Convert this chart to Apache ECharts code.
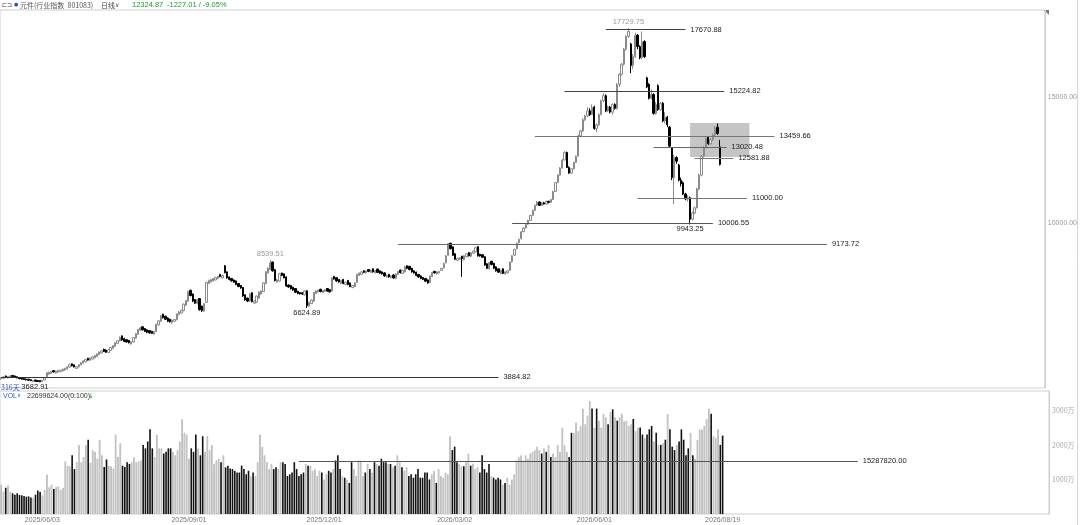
<!DOCTYPE html>
<html><head><meta charset="utf-8">
<script src="https://cdn.jsdelivr.net/npm/echarts@6/dist/echarts.min.js"></script>
<style>html,body{margin:0;padding:0;background:#fff}#c{width:1080px;height:525px}</style>
</head><body><div id="c"></div>
<script>
// ---------- data ----------
const opens=[3810,3840,3930,3850,3880,3950,3930,3900,3870,3845,
3830,3810,3800,3780,3700,3770,3750,3745,3705,3770,
3900,4000,4030,4140,4050,4080,4100,4130,4160,4210,
4280,4410,4370,4230,4290,4370,4440,4490,4630,4550,
4600,4650,4700,4780,4840,4990,4960,4860,4940,5020,
5100,5220,5320,5520,5420,5370,5340,5200,5280,5430,
5580,5740,5880,5810,5760,5730,5700,5590,5690,5960,
6100,6380,6300,6230,6180,6040,6100,6160,6360,6430,
6520,6740,6900,7330,7180,6960,6800,7000,6700,6500,
6850,7600,7660,7700,7740,7790,7960,7820,8300,8060,
7860,7800,7740,7700,7600,7520,7440,7150,7020,6900,
7230,6820,6860,7020,7180,7280,7600,8020,8150,8450,
8150,7660,7700,8010,7980,7860,7540,7520,7450,7400,
7290,7240,7230,7150,7310,6700,6800,6900,7200,7260,
7370,7240,7280,7400,7350,7300,7880,7830,7760,7600,
7760,7560,7720,7620,7440,7480,7640,7920,7960,8100,
8020,8150,8040,8180,8030,8170,8100,8060,8020,7860,
7960,7830,7940,7800,7960,8130,8000,8060,8300,8280,
8200,8100,8050,7960,7900,7840,7800,7740,7640,7880,
8080,7980,8020,8120,8220,8420,8720,9200,9050,8780,
8520,8560,8680,8540,8660,8820,8680,8800,8860,9060,
8760,8740,8660,8380,8180,8480,8400,8260,8180,8000,
8180,7980,8020,8120,8460,8720,8980,9220,9380,9660,
9800,9950,10100,10300,10500,10700,10830,10700,10800,10750,
10860,10820,10930,11250,11600,11900,12180,12500,12800,12200,
11980,12150,12400,12650,13450,13650,14100,14250,14450,14300,
14600,13750,13900,14300,14850,15050,14450,14600,14400,14700,
14550,15500,15900,16300,16900,17400,17100,16250,16600,17450,
17000,16560,17200,15760,15500,14950,15100,14350,15450,14500,
14750,14050,14200,13800,12980,11800,12600,12300,11700,11600,
11150,10950,11000,10150,10400,10600,11350,11900,12650,13000,
13400,13150,13300,13500,13800,13020.48];
const closes=[3870,3895,3880,3910,3935,3905,3880,3850,3820,3800,
3790,3770,3760,3740,3745,3720,3710,3700,3760,3860,
4060,4080,4100,4090,4120,4150,4160,4200,4230,4290,
4380,4330,4290,4300,4380,4460,4530,4580,4560,4640,
4690,4740,4800,4880,4930,4900,4870,4960,5060,5130,
5250,5330,5460,5360,5300,5280,5250,5290,5450,5600,
5780,5840,5760,5700,5660,5640,5620,5700,5980,6120,
6320,6240,6180,6100,6080,6150,6170,6390,6480,6530,
6780,6920,7280,7120,6900,6820,6960,6560,6520,6800,
7640,7720,7760,7800,7840,7880,7870,7920,8030,7820,
7760,7700,7650,7560,7480,7420,7100,6950,6900,7200,
6880,6900,7100,7260,7300,7620,8060,8200,8420,8100,
7720,7740,7990,7920,7830,7500,7460,7390,7340,7250,
7200,7190,7180,7300,6720,6850,6940,7240,7300,7330,
7280,7320,7350,7300,7270,7820,7780,7700,7660,7720,
7600,7650,7560,7480,7520,7620,7960,8010,8060,8040,
8100,8080,8130,8060,8120,8040,8010,7980,7900,7920,
7860,7900,7820,7980,8080,8030,8120,8260,8200,8150,
8060,8020,7920,7860,7800,7760,7690,7620,7900,8040,
8020,8060,8080,8200,8400,8700,9180,8980,8720,8560,
8600,8620,8580,8700,8780,8700,8820,8880,9020,8700,
8690,8640,8330,8200,8430,8350,8200,8100,8050,8130,
8000,8060,8100,8450,8700,8950,9200,9350,9650,9800,
9950,10100,10300,10500,10700,10830,10700,10800,10750,10860,
10820,10930,11250,11600,11900,12180,12500,12800,12200,11980,
12150,12400,12650,13450,13650,14100,14250,14450,14300,14580,
13750,13900,14300,14850,15050,14450,14600,14400,14700,14550,
15500,15900,16300,16900,17400,17600,16250,16600,17450,17000,
16560,17200,16600,15400,14950,15100,14350,14700,14500,14750,
14050,14200,13900,13050,11800,12600,12450,11700,11550,11150,
10950,11000,10150,10400,10600,11350,11900,12650,13000,13350,
13150,13300,13500,13760,13551.88,12324.87];
const lows=[3790,3825,3865,3835,3865,3890,3865,3835,3805,3785,
3775,3755,3745,3725,3690,3705,3695,3682.91,3690,3755,
3880,3985,4010,4070,4030,4060,4085,4110,4140,4190,
4260,4310,4270,4210,4270,4350,4420,4470,4540,4530,
4580,4630,4680,4760,4820,4880,4845,4835,4920,5000,
5080,5200,5300,5330,5270,5250,5220,5170,5260,5410,
5560,5715,5735,5675,5630,5610,5590,5560,5670,5940,
6080,6215,6150,6070,6050,6010,6080,6140,6340,6410,
6500,6720,6880,7090,6860,6790,6780,6520,6470,6480,
6830,7580,7640,7680,7720,7770,7845,7800,8000,7790,
7730,7670,7620,7530,7450,7390,7070,6920,6860,6870,
6850,6790,6830,7000,7160,7260,7580,8000,8130,8070,
7680,7630,7680,7890,7800,7470,7430,7360,7310,7220,
7170,7160,7150,7120,6624.89,6670,6780,6880,7180,7240,
7250,7210,7260,7270,7240,7280,7750,7670,7630,7570,
7570,7530,7530,7450,7410,7450,7620,7900,7940,8010,
8000,8050,8020,8030,8000,8010,7980,7950,7870,7830,
7830,7800,7790,7770,7940,8000,7980,8040,8170,8120,
8030,7990,7890,7830,7770,7730,7660,7590,7610,7860,
7990,7950,8000,8100,8200,8400,8700,8950,8690,8530,
8490,8530,7860,8510,8640,8670,8650,8780,8840,8670,
8660,8610,8300,8170,8150,8320,8170,8070,8020,7970,
7970,7950,7990,8090,8430,8690,8950,9190,9350,9630,
9780,9930,10080,10280,10480,10680,10680,10680,10730,10730,
10780,10800,10910,11230,11580,11880,12160,12480,12180,11950,
11950,12130,12380,12630,13400,13620,14050,14200,14250,14280,
13700,13600,13850,14280,14800,14400,14400,14350,14300,14500,
14500,15400,15850,16250,16850,17350,15950,16100,16550,16900,
16500,16500,16550,15350,14900,14900,14300,14300,14450,14450,
14000,13950,13800,13000,11700,10750,12350,11650,11450,11100,
10900,10850,9943.25,10100,10350,10580,11300,11850,12600,12950,
13100,13100,13250,13450,13500,12280];
const highs=[3885,3910,3945,3925,3950,3965,3945,3915,3885,3860,
3845,3825,3815,3795,3760,3785,3765,3760,3775,3880,
4080,4100,4120,4160,4140,4170,4180,4220,4250,4310,
4420,4430,4390,4320,4400,4480,4550,4600,4650,4660,
4710,4760,4820,4900,4950,5010,4980,4980,5080,5150,
5270,5350,5500,5540,5440,5390,5360,5310,5470,5630,
5800,5870,5900,5830,5780,5750,5720,5720,6000,6150,
6350,6400,6320,6250,6200,6170,6190,6410,6500,6560,
6800,6940,7310,7350,7200,6980,6980,7020,6720,6830,
7670,7750,7780,7820,7860,7900,7980,7940,8330,8080,
7880,7820,7760,7720,7620,7540,7460,7170,7040,7230,
7250,6930,7120,7280,7330,7650,8090,8240,8539.51,8470,
8170,7780,8020,8030,8000,7880,7560,7540,7470,7420,
7310,7260,7250,7330,7330,6880,6970,7260,7330,7360,
7390,7340,7380,7420,7370,7850,7900,7850,7780,7750,
7780,7670,7740,7640,7540,7650,7990,8040,8090,8120,
8120,8170,8150,8200,8140,8190,8120,8080,8040,7950,
7980,7920,7960,8000,8100,8150,8140,8290,8320,8300,
8220,8120,8070,7980,7920,7860,7820,7760,7920,8060,
8100,8080,8100,8220,8420,8730,9200,9210,9070,8800,
8620,8650,8700,8720,8800,8840,8840,8900,9050,9080,
8780,8760,8680,8400,8450,8500,8420,8280,8200,8150,
8200,8080,8120,8470,8720,8980,9230,9380,9680,9830,
9980,10130,10330,10530,10730,10870,10860,10830,10840,10880,
10880,10960,11280,11630,11930,12210,12530,12850,12830,12250,
12180,12430,12680,13500,13700,14150,14300,14600,14550,14700,
14650,13950,14350,14900,15150,15100,14650,14650,14750,14750,
15550,15950,16350,16950,17450,17729.75,17150,16700,17550,17500,
17050,17600,17250,15800,15550,15300,15150,14800,15500,14800,
14800,14400,14250,13850,13000,12700,12650,12350,11800,11650,
11200,11100,11050,10450,10650,11400,11950,12700,13050,13400,
13450,13350,13550,13850,13950,13300];
// volume in 万 (10k)
const volumes=[850,650,760,830,650,600,560,600,550,540,
520,500,510,480,470,560,680,640,540,700,
1140,780,850,720,780,800,700,760,1525,1400,
1380,1700,1300,1500,2000,1500,1650,2000,2150,1480,
1850,1800,1600,2150,1700,1360,1580,1400,1380,1320,
2300,1660,2050,1400,1360,1500,1450,1500,1640,1500,
1520,1550,2000,1900,2100,2450,1900,1650,2300,1900,
1900,1750,1800,1900,1900,1800,1700,1850,2100,2740,
2350,2300,1600,1900,1800,2300,1900,1700,2250,1800,
2250,1850,2000,1450,1550,1600,1500,1700,1350,1400,
1320,1300,1250,1200,1200,1400,1300,1150,1250,1100,
1200,1100,1500,2300,1950,1700,1500,1300,1450,1300,
1350,1300,1500,1500,1450,1100,1150,1200,1500,1300,
1100,1150,1200,1450,1400,1400,1250,1300,1100,1250,
1200,1000,1150,1250,1200,1300,1550,1700,1300,1100,
1050,1000,900,1500,1300,1100,1550,1550,1100,1200,
1450,1300,1200,1500,1450,1400,1600,1500,1500,1450,
1450,1350,1400,1700,1500,1350,1250,1350,1100,1150,
1050,1150,1300,1050,1050,1200,1200,1000,1150,1250,
900,1300,1100,1050,1200,1150,2250,1850,1950,1500,
1450,1380,1380,1500,1750,1400,1460,1300,1350,1200,
1700,1300,1200,1450,1100,1050,1000,1050,1000,850,
900,1050,850,1000,1150,1550,1650,1700,1550,1700,
1600,1750,1800,1850,1950,1850,1750,1900,1800,2000,
1650,1750,1650,2000,1800,2500,2000,1800,1650,2350,
2350,2650,2400,2550,3050,2600,2850,3270,3050,2500,
3050,2700,2500,2900,2800,2600,2950,3030,2800,2700,
2800,2900,2680,2700,2550,2600,2750,2400,2500,2500,
2300,2200,2300,2450,2550,2100,2350,2000,2000,2050,
2150,2900,2450,1950,1850,2000,2100,2450,2150,1700,
1900,2350,1700,1600,2150,2450,2450,2550,2750,3050,
2900,2250,2200,2450,2000,2269.9624];
const priceLevels=[17670.88,15224.82,13459.66,13020.48,12581.88,11000.00,10006.55,9173.72,3884.82];
const volumeLevel=1528.782;
const priceTicks=[10000,15000];
const volumeTicks=[1000,2000,3000];
const dateTicks=['2025/06/03','2025/09/01','2025/12/01','2026/03/02','2026/06/01','2026/08/19'];
const extremes=[{i:275,v:17729.75,pos:'top'},{i:118,v:8539.51,pos:'top'},{i:134,v:6624.89,pos:'bottom'},{i:302,v:9943.25,pos:'bottom'},{i:17,v:3682.91,pos:'bottom'}];
const boxRange=[13968,12619];
// ---------- layout (positions in category-index units) ----------
const levelSpans=[[264.6,299.9],[246.7,316.5],[234.4,339.2],[286.4,318.3],[304.3,320.5],[279.4,326.6],[223.5,312.2],[173.7,362],[-0.5,217.8]];
const levelColors=['#444','#444','#777','#666','#777','#777','#555','#666','#333'];
const volumeSpan=[129.6,374.2];
const boxSpan=[302.2,328.3];
const TOTAL_SLOTS=458;

const holidays=new Set(['2025-06-02','2025-10-01','2025-10-02','2025-10-03','2025-10-06','2025-10-07','2025-10-08','2026-01-01','2026-01-02','2026-02-16','2026-02-17','2026-02-18','2026-02-19','2026-02-20','2026-02-23','2026-04-06','2026-05-01','2026-05-04','2026-05-05','2026-06-19']);
function tradingDays(n){
  const out=[];const d=new Date(Date.UTC(2025,4,7));
  while(out.length<n){
    const w=d.getUTCDay();
    const y=d.getUTCFullYear(),m=String(d.getUTCMonth()+1).padStart(2,'0'),dd=String(d.getUTCDate()).padStart(2,'0');
    if(w!==0&&w!==6&&!holidays.has(y+'-'+m+'-'+dd)) out.push(y+'/'+m+'/'+dd);
    d.setUTCDate(d.getUTCDate()+1);
  }
  return out;
}
const dates=tradingDays(closes.length);
const cats=dates.slice();
for(let k=cats.length;k<TOTAL_SLOTS;k++) cats.push('#'+k);

const N=closes.length;
const last=closes[N-1], prev=closes[N-2];
const chg=last-prev, pct=chg/prev*100;

const NUM='"Liberation Sans", Arial, sans-serif';
const CJK='"Noto Sans CJK SC", sans-serif';
const green='#1f9a2a';

const chart=echarts.init(document.getElementById('c'),null,{renderer:'canvas'});
chart.setOption({
  animation:false,
  backgroundColor:'#fff',
  grid:[
    {left:0,right:31,top:10,height:378,show:true,borderColor:'#cfcfcf',borderWidth:1},
    {left:0,right:31,top:391,height:123,show:true,borderColor:'#cfcfcf',borderWidth:1}
  ],
  xAxis:[
    {type:'category',gridIndex:0,data:cats,boundaryGap:true,axisLine:{show:false},axisTick:{show:false},axisLabel:{show:false},splitLine:{show:false}},
    {type:'category',gridIndex:1,data:cats,boundaryGap:true,axisLine:{show:false},axisTick:{show:false},splitLine:{show:false},
     axisLabel:{show:true,interval:(idx,val)=>dateTicks.includes(val),fontSize:7,color:'#777',fontFamily:NUM,margin:3,hideOverlap:false}}
  ],
  yAxis:[
    {type:'value',gridIndex:0,position:'right',min:3452,max:18452,axisLine:{show:true,lineStyle:{color:'#cfcfcf'}},axisTick:{show:false},splitLine:{show:false},
     axisLabel:{customValues:priceTicks,formatter:v=>v.toFixed(2),fontSize:7,color:'#999',fontFamily:NUM,margin:3}},
    {type:'value',gridIndex:1,position:'right',min:0,max:3560,axisLine:{show:true,lineStyle:{color:'#cfcfcf'}},axisTick:{show:false},splitLine:{show:false},
     axisLabel:{customValues:volumeTicks,formatter:v=>v+'万',fontSize:7,color:'#aaa',fontFamily:CJK,margin:3}}
  ],
  series:[
    {type:'candlestick',xAxisIndex:0,yAxisIndex:0,barWidth:'80%',
     data:closes.map((c,i)=>[opens[i],c,lows[i],highs[i]]),
     itemStyle:{color:'#ffffff',color0:'#000000',borderColor:'#8a8a8a',borderColor0:'#000000',borderWidth:1},
     markArea:{silent:true,itemStyle:{color:'rgba(150,150,150,0.55)'},data:[[{coord:[boxSpan[0],boxRange[0]]},{coord:[boxSpan[1],boxRange[1]]}]]},
     markLine:{silent:true,symbol:['none','none'],animation:false,
       label:{show:true,position:'end',distance:5,color:'#222',fontSize:7.5,fontFamily:NUM,formatter:'{b}'},
       data:priceLevels.map((v,k)=>[{name:v.toFixed(2),coord:[levelSpans[k][0],v],lineStyle:{color:levelColors[k],width:1,type:'solid'}},{coord:[levelSpans[k][1],v]}])
         .concat([[{name:'',coord:[453.5,last],lineStyle:{color:'#999',width:1,type:'solid'},label:{show:false}},{coord:[458,last]}]])
     },
     markPoint:{silent:true,symbol:'circle',symbolSize:0,
       data:extremes.map(e=>({coord:[e.i,e.v],value:e.v,
         label:{show:true,position:e.pos,distance:e.pos==='top'?2:1,fontSize:7.5,fontFamily:NUM,
           color:e.pos==='top'?'#999':'#222',formatter:e.v.toFixed(2),offset:e.i===17?[-5,0]:[0,0]}}))
     }
    },
    {type:'bar',xAxisIndex:1,yAxisIndex:1,barWidth:'70%',
     data:volumes.map((v,i)=>({value:v,itemStyle:closes[i]>=opens[i]?{color:'#ffffff',borderColor:'#b0b0b0',borderWidth:0.8}:{color:'#111111'}})),
     markLine:{silent:true,symbol:['none','none'],
       label:{show:true,position:'end',distance:5,color:'#222',fontSize:7.5,fontFamily:NUM,formatter:'{b}'},
       data:[[{name:(volumeLevel*1e4).toFixed(2),coord:[volumeSpan[0],volumeLevel],lineStyle:{color:'#555',width:1,type:'solid'}},{coord:[volumeSpan[1],volumeLevel]}]]}
    }
  ],
  graphic:[
    {type:'text',x:2,y:5,style:{text:'⊏⊐',fontSize:6,fontFamily:'"DejaVu Sans"',fill:'#333',verticalAlign:'middle'}},
    {type:'text',x:14,y:5,style:{text:'●',fontSize:5,fontFamily:'"DejaVu Sans"',fill:'#2a5caa',verticalAlign:'middle'}},
    {type:'text',x:20,y:5,style:{text:'元件(行业指数  801083)',fontSize:7,fontFamily:CJK,fill:'#555',verticalAlign:'middle'}},
    {type:'text',x:101,y:5,style:{text:'日线',fontSize:7,fontFamily:CJK,fill:'#444',verticalAlign:'middle'}},
    {type:'text',x:115,y:5,style:{text:'∨',fontSize:6,fontFamily:'"DejaVu Sans"',fill:'#444',verticalAlign:'middle'}},
    {type:'text',x:132,y:5,style:{text:last.toFixed(2),fontSize:7.5,fontFamily:NUM,fill:green,verticalAlign:'middle'}},
    {type:'text',x:167,y:5,style:{text:chg.toFixed(2)+' / '+pct.toFixed(2)+'%',fontSize:7.5,fontFamily:NUM,fill:green,verticalAlign:'middle'}},
    {type:'text',x:1,y:387,style:{text:'316天',fontSize:7,fontFamily:CJK,fill:'#3a4fb0',verticalAlign:'middle'}},
    {type:'text',x:3,y:396,style:{text:'VOL',fontSize:7,fontFamily:NUM,fill:'#3a5ab8',verticalAlign:'middle'}},
    {type:'text',x:17,y:396,style:{text:'∨',fontSize:5.5,fontFamily:'"DejaVu Sans"',fill:'#3a5ab8',verticalAlign:'middle'}},
    {type:'text',x:27,y:396,style:{text:(volumes[N-1]*1e4).toFixed(2)+'(0:100)',fontSize:7,fontFamily:NUM,fill:'#333',verticalAlign:'middle'}},
    {type:'text',x:88,y:396,style:{text:'↓',fontSize:7,fontFamily:'"DejaVu Sans"',fill:green,verticalAlign:'middle'}},
    {type:'polygon',shape:{points:[[1044,10],[1049,10],[1049,15]]},style:{fill:'#777'}},
    {type:'line',shape:{x1:1077.5,y1:0,x2:1077.5,y2:525},style:{stroke:'#d5d5d5',lineWidth:1}}
  ]
});
</script></body></html>
